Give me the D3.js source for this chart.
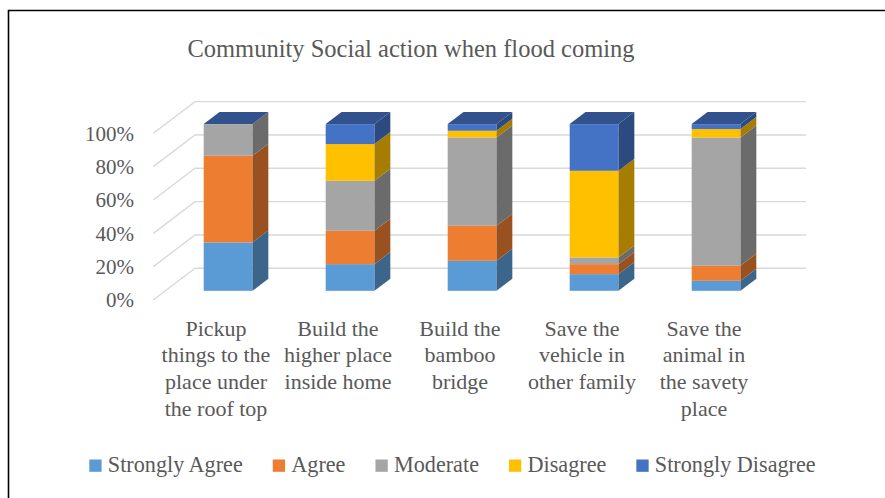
<!DOCTYPE html>
<html>
<head>
<meta charset="utf-8">
<script src="https://cdn.jsdelivr.net/npm/d3@7/dist/d3.min.js"></script>
<style>
  html, body { margin: 0; padding: 0; background: #fff; }
  svg { display: block; }
  text { font-family: "Liberation Serif", "DejaVu Serif", serif; fill: #595959; }
</style>
</head>
<body>
<svg id="chart" width="885" height="498"></svg>
<script>
// ---- data ----
const title = "Community Social action when flood coming";
const categories = [
  ["Pickup", "things to the", "place under", "the roof top"],
  ["Build the", "higher place", "inside home"],
  ["Build the", "bamboo", "bridge"],
  ["Save the", "vehicle in", "other family"],
  ["Save the", "animal in", "the savety", "place"]
];
const seriesNames = ["Strongly Agree", "Agree", "Moderate", "Disagree", "Strongly Disagree"];
const stronglyAgree    = [29, 16, 18, 10, 6];
const agree            = [52, 20, 21, 6, 9];
const moderate         = [19, 30, 53, 4, 77];
const disagree         = [0, 22, 4, 52, 5];
const stronglyDisagree = [0, 12, 4, 28, 3];
const tickValues = [0, 20, 40, 60, 80, 100];
const colors = ["#5B9BD5", "#ED7D31", "#A5A5A5", "#FFC000", "#4472C4"];

const seriesValues = [stronglyAgree, agree, moderate, disagree, stronglyDisagree];
const table = categories.map((c, i) => {
  const row = { idx: i };
  seriesNames.forEach((s, k) => { row[s] = seriesValues[k][i]; });
  return row;
});
const stacked = d3.stack().keys(seriesNames)(table);

// ---- 3D geometry ----
const svg = d3.select("#chart");
const depth = { dx: 41.7, dy: -31.7 };     // full floor depth vector
const barT0 = 0.29, barT1 = 0.67;           // bar front / back as fractions of the depth
const x = d3.scaleBand().domain(d3.range(categories.length))
  .range([155, 765]).paddingInner(0.6).paddingOuter(0.3);
const y = d3.scaleLinear().domain([0, 100]).range([300, 133.3]);
const off = t => [t * depth.dx, t * depth.dy];

// chart frame
svg.append("path").attr("d", "M8.5,498 V10.5 H885")
  .attr("fill", "none").attr("stroke", "#000").attr("stroke-width", 1.6);

// title
svg.append("text").attr("x", 411).attr("y", 57).attr("text-anchor", "middle")
  .style("font-size", "24.5px").text(title);

// back wall gridlines and left wall diagonals
const grid = svg.append("g").attr("stroke", "#D9D9D9").attr("stroke-width", 1.4).attr("fill", "none");
const [bx, by] = off(1);
tickValues.forEach(v => {
  const x0 = x.range()[0] - 1.7, yf = y(v);
  grid.append("path").attr("d",
    `M${x0},${yf} L${x0 + bx},${yf + by} H${806}`);
});

// y axis labels
svg.append("g").selectAll("text").data(tickValues).join("text")
  .attr("x", 134).attr("y", d => y(d)).attr("dy", "0.35em")
  .attr("text-anchor", "end").style("font-size", "21px")
  .text(d => d + "%");

// shading helpers for side and top faces
const shade = (c, k) => { const r = d3.rgb(c); return d3.rgb(r.r * k, r.g * k, r.b * k).formatHex(); };

const bars = svg.append("g");
const [fx, fy] = off(barT0);
const [kx, ky] = off(barT1);
const ddx = kx - fx, ddy = ky - fy;
categories.forEach((c, i) => {
  const g = bars.append("g");
  const xl = x(i) + fx, xr = x(i) + x.bandwidth() + fx;
  stacked.forEach((s, k) => {
    const [v0, v1] = s[i];
    if (v1 - v0 <= 0) return;
    const yb = y(v0) + fy, yt = y(v1) + fy;
    // front face
    g.append("rect").attr("x", xl).attr("y", yt)
      .attr("width", xr - xl).attr("height", yb - yt).attr("fill", colors[k]);
    // right side face
    g.append("path").attr("d",
      `M${xr},${yb} L${xr + ddx},${yb + ddy} L${xr + ddx},${yt + ddy} L${xr},${yt} Z`)
      .attr("fill", shade(colors[k], 0.65));
  });
  // top face, in the colour of the last series
  const top = stacked[stacked.length - 1][i][1];
  const yt = y(top) + fy;
  g.append("path").attr("d",
    `M${xl},${yt} L${xr},${yt} L${xr + ddx},${yt + ddy} L${xl + ddx},${yt + ddy} Z`)
    .attr("fill", shade(colors[colors.length - 1], 0.72));
});

// category labels
const catG = svg.append("g");
categories.forEach((lines, i) => {
  const t = catG.append("text").attr("text-anchor", "middle").style("font-size", "22px");
  lines.forEach((ln, j) => {
    t.append("tspan").attr("x", x(i) + x.bandwidth() / 2).attr("y", 335.7 + j * 26.7).text(ln);
  });
});

// legend
const legend = svg.append("g");
let lx = 89.3;
seriesNames.forEach((s, k) => {
  legend.append("rect").attr("x", lx).attr("y", 459.5).attr("width", 12.3).attr("height", 12.3)
    .attr("fill", colors[k]);
  const t = legend.append("text").attr("x", lx + 18.5).attr("y", 472.3)
    .style("font-size", "22.2px").text(s);
  lx += 18.5 + t.node().getComputedTextLength() + 30;
});
</script>
</body>
</html>
